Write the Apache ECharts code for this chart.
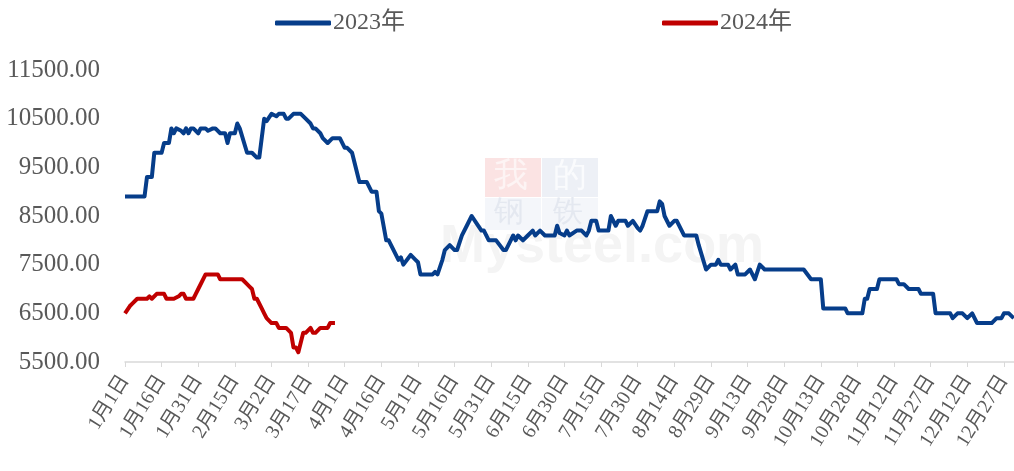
<!DOCTYPE html>
<html>
<head>
<meta charset="utf-8">
<script src="https://cdn.jsdelivr.net/npm/echarts@6/dist/echarts.min.js"></script>
<style>
  html, body { margin: 0; padding: 0; background: #fff; }
  #main { width: 1014px; height: 471px; }
</style>
</head>
<body>
<div id="main"></div>
<script>
var chartDom = document.getElementById('main');
var myChart = echarts.init(chartDom);
var option;

// Category axis: every day of the year, 1月1日 .. 12月31日
const monthDays = [31, 28, 31, 30, 31, 30, 31, 31, 30, 31, 30, 31];
const dates = [];
monthDays.forEach(function (n, m) {
  for (let d = 1; d <= n; d++) dates.push((m + 1) + '月' + d + '日');
});

// 2023: day of year (index into dates) and price, read where the line changes
const days2023 = [
  0, 8, 9, 11, 12, 15, 16, 18, 19, 20, 21, 23, 24, 25, 26, 27, 28, 30, 31, 33,
  34, 36, 37, 39, 41, 42, 43, 45, 46, 47, 50, 52, 54, 55, 57, 58, 60, 62, 63, 65,
  66, 67, 69, 72, 74, 76, 77, 78, 80, 81, 83, 85, 88, 90, 91, 93, 96, 99, 101, 103,
  104, 105, 107, 108, 112, 113, 114, 117, 119, 120, 121, 126, 127, 128, 130, 131, 133, 135, 136, 138,
  140, 142, 144, 146, 147, 149, 152, 155, 156, 158, 159, 160, 161, 163, 165, 167, 168, 170, 172, 176,
  177, 178, 180, 181, 182, 185, 187, 189, 190, 191, 193, 194, 198, 199, 201, 202, 205, 206, 208, 210,
  211, 212, 214, 218, 219, 220, 221, 223, 225, 226, 229, 234, 235, 238, 240, 242, 243, 244, 247, 248,
  250, 251, 254, 256, 258, 260, 262, 278, 281, 285, 286, 295, 296, 302, 303, 304, 305, 308, 309, 316,
  317, 319, 321, 325, 326, 331, 332, 338, 339, 341, 343, 345, 347, 349, 355, 357, 359, 360, 362, 364
];
const price2023 = [
  8900, 8900, 9300, 9300, 9800, 9800, 10000, 10000, 10300, 10200, 10300, 10250, 10200, 10300, 10200, 10300, 10300, 10200, 10300, 10300,
  10250, 10300, 10300, 10200, 10200, 10000, 10200, 10200, 10400, 10300, 9800, 9800, 9700, 9700, 10500, 10450, 10600, 10550, 10600, 10600,
  10500, 10500, 10600, 10600, 10500, 10400, 10300, 10300, 10200, 10100, 10000, 10100, 10100, 9900, 9900, 9800, 9200, 9200, 9000, 9000,
  8600, 8550, 8000, 8000, 7600, 7650, 7500, 7700, 7600, 7550, 7300, 7300, 7350, 7300, 7600, 7800, 7900, 7800, 7800, 8100,
  8300, 8500, 8350, 8200, 8200, 8000, 8000, 7800, 7800, 8000, 8100, 8000, 8100, 8000, 8100, 8200, 8100, 8200, 8100, 8100,
  8300, 8150, 8100, 8200, 8100, 8200, 8200, 8100, 8200, 8400, 8400, 8200, 8200, 8500, 8300, 8400, 8400, 8300, 8400, 8250,
  8200, 8300, 8600, 8600, 8800, 8750, 8500, 8300, 8400, 8400, 8100, 8100, 7900, 7400, 7500, 7500, 7600, 7500, 7500, 7400,
  7500, 7300, 7300, 7400, 7200, 7500, 7400, 7400, 7200, 7200, 6600, 6600, 6500, 6500, 6800, 6800, 7000, 7000, 7200, 7200,
  7100, 7100, 7000, 7000, 6900, 6900, 6500, 6500, 6400, 6500, 6500, 6400, 6500, 6300, 6300, 6400, 6400, 6500, 6500, 6400
];

// 2024: same calendar positions, data through late March
const days2024 = [
  0, 2, 3, 5, 9, 10, 11, 13, 16, 17, 20, 22, 23, 24, 25, 28, 29, 30, 33, 38,
  39, 48, 50, 51, 52, 53, 54, 56, 57, 58, 60, 62, 63, 66, 68, 69, 70, 71, 73, 74,
  76, 77, 78, 80, 83, 84, 86
];
const price2024 = [
  6500, 6650, 6700, 6800, 6800, 6850, 6800, 6900, 6900, 6800, 6800, 6850, 6900, 6900, 6800, 6800, 6900, 7000, 7300, 7300,
  7200, 7200, 7100, 7050, 7000, 6800, 6800, 6600, 6500, 6400, 6300, 6300, 6200, 6200, 6100, 5800, 5800, 5700, 6100, 6100,
  6200, 6100, 6100, 6200, 6200, 6300, 6300
];

const serif = "'Times New Roman', 'Liberation Serif', 'Noto Sans CJK SC', serif";

function pairs(days, vals) {
  return days.map(function (d, i) { return [d, vals[i]]; });
}

option = {
  animation: false,
  backgroundColor: '#ffffff',
  legend: {
    top: 6,
    left: 270,
    itemGap: 257,
    itemWidth: 56,
    itemHeight: 5,
    icon: 'roundRect',
    textStyle: { fontFamily: serif, fontSize: 24, color: '#595959', padding: [0, 0, 0, -3] },
    data: ['2023年', '2024年']
  },
  // faint site watermark
  graphic: [
    { type: 'rect', z: 0, silent: true, shape: { x: 485, y: 158, width: 56, height: 39 }, style: { fill: '#fbe3e3' } },
    { type: 'rect', z: 0, silent: true, shape: { x: 542, y: 158, width: 56, height: 39 }, style: { fill: '#edf0f6' } },
    { type: 'rect', z: 0, silent: true, shape: { x: 485, y: 198, width: 56, height: 32 }, style: { fill: '#f4f6fa' } },
    { type: 'rect', z: 0, silent: true, shape: { x: 542, y: 198, width: 56, height: 32 }, style: { fill: '#f4f6fa' } },
    { type: 'text', z: 0, silent: true, left: 494, top: 160, style: { text: '我', font: '34px serif', fill: '#fdf4f4' } },
    { type: 'text', z: 0, silent: true, left: 553, top: 160, style: { text: '的', font: '34px serif', fill: '#fafbfd' } },
    { type: 'text', z: 0, silent: true, left: 494, top: 198, style: { text: '钢', font: '30px serif', fill: '#e4e8f0' } },
    { type: 'text', z: 0, silent: true, left: 553, top: 198, style: { text: '铁', font: '30px serif', fill: '#e4e8f0' } },
    { type: 'text', z: 0, silent: true, left: 440, top: 220, style: { text: 'Mysteel.com', font: 'bold 54px Arial, sans-serif', fill: '#f4f4f4' } }
  ],
  grid: {
    left: 125,
    right: 0,
    top: 70,
    bottom: 109
  },
  xAxis: {
    type: 'category',
    data: dates,
    boundaryGap: false,
    axisLine: { lineStyle: { color: '#d9d9d9', width: 1.5 } },
    axisTick: { interval: 14, length: 5, lineStyle: { color: '#d9d9d9' } },
    axisLabel: {
      interval: 14,
      rotate: 58,
      margin: 15,
      fontFamily: serif,
      fontSize: 20,
      color: '#595959'
    },
    splitLine: { show: false }
  },
  yAxis: {
    type: 'value',
    min: 5500,
    max: 11500,
    interval: 500,
    axisLine: { show: false },
    axisTick: { show: false },
    splitLine: { show: false },
    axisLabel: {
      margin: 25,
      fontFamily: serif,
      fontSize: 25,
      color: '#595959',
      formatter: function (v) {
        return (v - 5500) % 1000 === 0 ? v.toFixed(2) : '';
      }
    }
  },
  series: [
    {
      name: '2023年',
      type: 'line',
      data: pairs(days2023, price2023),
      showSymbol: false,
      symbol: 'none',
      z: 3,
      color: '#063d8a',
      lineStyle: { width: 4, color: '#063d8a', join: 'round' }
    },
    {
      name: '2024年',
      type: 'line',
      data: pairs(days2024, price2024),
      showSymbol: false,
      symbol: 'none',
      z: 4,
      color: '#c00000',
      lineStyle: { width: 4, color: '#c00000', join: 'round' }
    }
  ]
};

option && myChart.setOption(option);
</script>
</body>
</html>
